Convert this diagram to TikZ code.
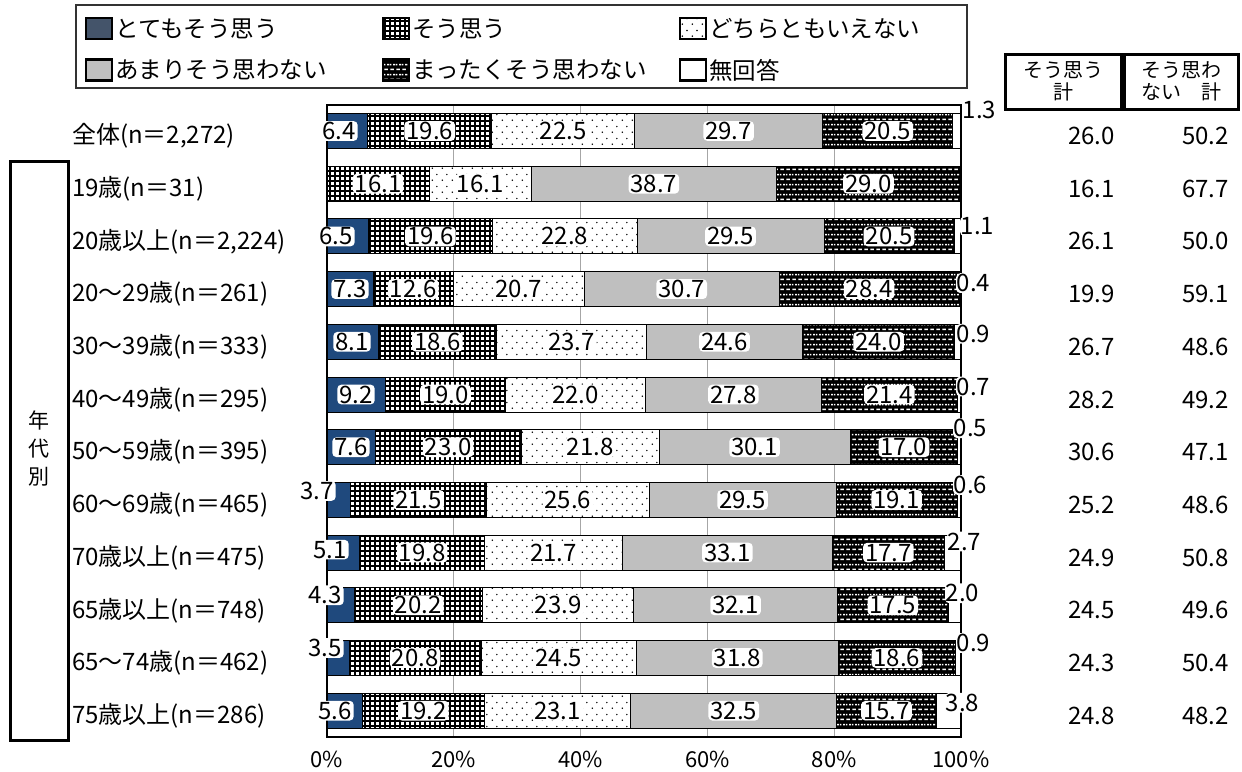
\documentclass[tikz,border=0pt]{standalone}
\usepackage{fontspec}
\setmainfont{Noto Sans CJK JP}
\usetikzlibrary{patterns}

\definecolor{strongblue}{RGB}{31,73,125}
\definecolor{keyblue}{RGB}{68,84,106}
\definecolor{midgray}{RGB}{191,191,191}

\pgfdeclarepatternformonly{agreegrid}{\pgfqpoint{-1pt}{-1pt}}{\pgfqpoint{6pt}{6pt}}{\pgfqpoint{5pt}{5pt}}{%
  \pgfsetlinewidth{1.1pt}
  \pgfpathmoveto{\pgfqpoint{0pt}{0pt}}\pgfpathlineto{\pgfqpoint{5.1pt}{0pt}}
  \pgfpathmoveto{\pgfqpoint{0pt}{0pt}}\pgfpathlineto{\pgfqpoint{0pt}{5.1pt}}
  \pgfusepath{stroke}}
\pgfdeclarepatternformonly{sparsedots}{\pgfqpoint{0pt}{0pt}}{\pgfqpoint{10pt}{12pt}}{\pgfqpoint{10pt}{12pt}}{%
  \pgfpathcircle{\pgfqpoint{2.5pt}{3pt}}{0.9pt}
  \pgfpathcircle{\pgfqpoint{7.5pt}{9pt}}{0.9pt}
  \pgfusepath{fill}}
\pgfdeclarepatternformonly{darkdash}{\pgfqpoint{0pt}{0pt}}{\pgfqpoint{6pt}{10pt}}{\pgfqpoint{6pt}{10pt}}{%
  \pgfpathrectangle{\pgfqpoint{0.5pt}{1pt}}{\pgfqpoint{4pt}{1.6pt}}
  \pgfpathrectangle{\pgfqpoint{3.5pt}{6pt}}{\pgfqpoint{2.5pt}{1.6pt}}
  \pgfpathrectangle{\pgfqpoint{0pt}{6pt}}{\pgfqpoint{1.5pt}{1.6pt}}
  \pgfusepath{fill}}

\begin{document}
\begin{tikzpicture}[x=1pt,y=-1pt]
    \tikzstyle{every node}=[font=\fontsize{24}{26}\selectfont]
    \tikzstyle{seg}=[draw=black,line width=0.9pt]
    \tikzstyle{vstrong}=[seg,fill=strongblue]
    \tikzstyle{vagree}=[seg,preaction={fill=white},pattern=agreegrid]
    \tikzstyle{vneutral}=[seg,preaction={fill=white},pattern=sparsedots]
    \tikzstyle{vdisagree}=[seg,fill=midgray]
    \tikzstyle{vstrongdis}=[seg,preaction={fill=black},pattern=darkdash,pattern color=white]
    \tikzstyle{vnoans}=[seg,fill=white]
    \tikzstyle{vlab}=[fill=white,rounded corners=4pt,inner xsep=2pt,inner ysep=1pt]
    \tikzstyle{rowlab}=[anchor=west,inner sep=0pt,font=\fontsize{24}{26}\selectfont]
    \tikzstyle{sumval}=[anchor=east,inner sep=0pt,font=\fontsize{24}{26}\selectfont]
    \tikzstyle{keybox}=[draw=black,line width=2.5pt,minimum width=26pt,minimum height=21pt,inner sep=0pt]
    \tikzstyle{legtext}=[anchor=west,inner sep=0pt,xshift=2pt,font=\fontsize{23.5}{26}\selectfont]
    \tikzstyle{hdrbox}=[draw=black,line width=3pt,align=center,inner sep=0pt,minimum height=55pt,font=\fontsize{20}{22}\selectfont]

    \useasboundingbox[fill=white] (0,0) rectangle (1242,771);

    % legend
    \node[draw=black!80,line width=1.3pt,minimum width=891pt,minimum height=83pt,inner sep=0pt] (legend) at (521.5,46.5) {};
    \node[keybox,fill=keyblue]                                  (kstrong)    at (99,28.5)  {};
    \node[keybox,preaction={fill=white},pattern=agreegrid]      (kagree)     at (396,28.5) {};
    \node[keybox,preaction={fill=white},pattern=sparsedots]     (kneutral)   at (693,28.5) {};
    \node[keybox,fill=midgray]                                  (kdisagree)  at (99,70)    {};
    \node[keybox,preaction={fill=black},pattern=darkdash,pattern color=white] (kstrongdis) at (396,70) {};
    \node[keybox,fill=white]                                    (knoans)     at (693,70)   {};
    \node[legtext] (tstrong)    at (kstrong.east)    {とてもそう思う};
    \node[legtext] (tagree)     at (kagree.east)     {そう思う};
    \node[legtext] (tneutral)   at (kneutral.east)   {どちらともいえない};
    \node[legtext] (tdisagree)  at (kdisagree.east)  {あまりそう思わない};
    \node[legtext] (tstrongdis) at (kstrongdis.east) {まったくそう思わない};
    \node[legtext] (tnoans)     at (knoans.east)     {無回答};

    % totals header
    \node[hdrbox,minimum width=116pt]            (hdrA) at (1063,81.5) {そう思う\\計};
    \node[hdrbox,minimum width=114pt,anchor=west] (hdrB) at (hdrA.east) {そう思わ\\ない　計};

    % age group bracket
    \node[draw=black,line width=3pt,minimum width=58pt,minimum height=579pt,inner sep=0pt] (grp) at (39,450.5) {};
    \node[align=center,inner sep=0pt,font=\fontsize{21}{28}\selectfont] (grptext) at (39,448.5) {年\\代\\別};

    % grid and axis
    \foreach \p in {20,40,60,80}
        \draw[gray!70,line width=0.8pt] (327+6.34*\p,105) -- (327+6.34*\p,737);
    \foreach \p in {0,20,...,100}
        \node[font=\fontsize{22}{24}\selectfont] (tick\p) at (327+6.34*\p,759) {\p\%};

    % bars
    \foreach \i/\a/\b/\c/\d/\e/\f in {0/6.4/19.6/22.5/29.7/20.5/1.3, 1/0/16.1/16.1/38.7/29.0/0,
            2/6.5/19.6/22.8/29.5/20.5/1.1, 3/7.3/12.6/20.7/30.7/28.4/0.4, 4/8.1/18.6/23.7/24.6/24.0/0.9,
            5/9.2/19.0/22.0/27.8/21.4/0.7, 6/7.6/23.0/21.8/30.1/17.0/0.5, 7/3.7/21.5/25.6/29.5/19.1/0.6,
            8/5.1/19.8/21.7/33.1/17.7/2.7, 9/4.3/20.2/23.9/32.1/17.5/2.0, 10/3.5/20.8/24.5/31.8/18.6/0.9,
            11/5.6/19.2/23.1/32.5/15.7/3.8} {
        \pgfmathsetmacro\yc{131+52.7*\i}
        \pgfmathsetmacro\xa{327+6.34*\a}
        \pgfmathsetmacro\xb{\xa+6.34*\b}
        \pgfmathsetmacro\xc{\xb+6.34*\c}
        \pgfmathsetmacro\xd{\xc+6.34*\d}
        \pgfmathsetmacro\xe{\xd+6.34*\e}
        \draw[vstrong]    (327,\yc-17.5) rectangle (\xa,\yc+17.5);
        \draw[vagree]     (\xa,\yc-17.5) rectangle (\xb,\yc+17.5);
        \draw[vneutral]   (\xb,\yc-17.5) rectangle (\xc,\yc+17.5);
        \draw[vdisagree]  (\xc,\yc-17.5) rectangle (\xd,\yc+17.5);
        \draw[vstrongdis] (\xd,\yc-17.5) rectangle (\xe,\yc+17.5);
        \draw[vnoans]     (\xe,\yc-17.5) rectangle (961,\yc+17.5);
        \node[vlab] (b\i) at ({(\xa+\xb)/2},\yc) {\b};
        \node[vlab] (c\i) at ({(\xb+\xc)/2},\yc) {\c};
        \node[vlab] (d\i) at ({(\xc+\xd)/2},\yc) {\d};
        \node[vlab] (e\i) at ({(\xd+\xe)/2},\yc) {\e};
    }
    \draw[black,line width=1.2pt] (327,105) rectangle (961,737);

    % labels of the end segments
    \foreach \i/\v/\x/\dy in {0/6.4/339/0, 2/6.5/336/0, 3/7.3/350/0, 4/8.1/352/0, 5/9.2/356/0, 6/7.6/351/0,
            7/3.7/317/-9, 8/5.1/330/-3, 9/4.3/325/-10, 10/3.5/325/-10, 11/5.6/335/0}
        \node[vlab] (a\i) at (\x,131+52.7*\i+\dy) {\v};
    \foreach \i/\v/\x/\dy in {0/1.3/962/-21, 2/1.1/960/-10, 3/0.4/956/-6, 4/0.9/956/-8, 5/0.7/956/-8,
            6/0.5/953/-19, 7/0.6/953/-15, 8/2.7/947/-11, 9/2.0/945/-12, 10/0.9/956/-15, 11/3.8/945/-8}
        \node[vlab,anchor=west,inner xsep=0.5pt] (f\i) at (\x,131+52.7*\i+\dy) {\v};

    % row names and totals
    \foreach \i/\lab/\s/\t in {0/{全体(n＝2,272)}/26.0/50.2, 1/{19歳(n＝31)}/16.1/67.7,
            2/{20歳以上(n＝2,224)}/26.1/50.0, 3/{20～29歳(n＝261)}/19.9/59.1,
            4/{30～39歳(n＝333)}/26.7/48.6, 5/{40～49歳(n＝295)}/28.2/49.2,
            6/{50～59歳(n＝395)}/30.6/47.1, 7/{60～69歳(n＝465)}/25.2/48.6,
            8/{70歳以上(n＝475)}/24.9/50.8, 9/{65歳以上(n＝748)}/24.5/49.6,
            10/{65～74歳(n＝462)}/24.3/50.4, 11/{75歳以上(n＝286)}/24.8/48.2} {
        \node[rowlab] (row\i) at (72,136+52.7*\i)   {\lab};
        \node[sumval] (sa\i)  at (1115,136+52.7*\i) {\s};
        \node[sumval] (sb\i)  at (1229,136+52.7*\i) {\t};
    }
\end{tikzpicture}
\end{document}
